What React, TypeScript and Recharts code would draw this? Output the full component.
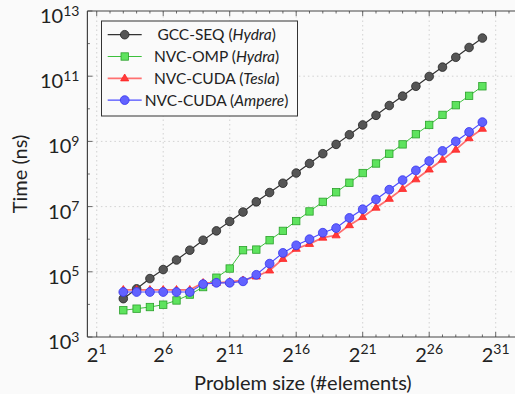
import { LineChart, Line, XAxis, YAxis, ReferenceLine } from "recharts";

// problem sizes 2^3 .. 2^30
const sizes = [
  8, 16, 32, 64, 128, 256, 512, 1024, 2048, 4096, 8192, 16384, 32768, 65536,
  131072, 262144, 524288, 1048576, 2097152, 4194304, 8388608, 16777216,
  33554432, 67108864, 134217728, 268435456, 536870912, 1073741824,
];

// times in ns
const gccSeq = [
  1.5e4, 3.0e4, 6.2e4, 1.17e5, 2.3e5, 4.6e5, 9.3e5, 1.8e6, 3.5e6, 6.8e6,
  1.4e7, 2.7e7, 5.2e7, 1.07e8, 2.1e8, 4.2e8, 8.1e8, 1.6e9, 3.2e9, 6.3e9,
  1.26e10, 2.45e10, 4.9e10, 9.8e10, 1.9e11, 3.8e11, 7.6e11, 1.48e12,
];
const nvcOmp = [
  6.6e3, 7.4e3, 8.3e3, 9.8e3, 1.32e4, 2.0e4, 3.4e4, 6.6e4, 1.26e5, 4.6e5,
  4.8e5, 9.3e5, 1.8e6, 3.6e6, 7.1e6, 1.4e7, 2.75e7, 5.4e7, 1.07e8, 2.1e8,
  4.2e8, 8.1e8, 1.66e9, 3.2e9, 6.5e9, 1.29e10, 2.5e10, 4.9e10,
];
const cudaTesla = [
  2.8e4, 2.8e4, 2.8e4, 2.8e4, 2.8e4, 2.8e4, 4.6e4, 4.6e4, 4.9e4, 5.5e4,
  7.2e4, 1.1e5, 2.5e5, 5.1e5, 7.2e5, 1.12e6, 1.32e6, 2.7e6, 4.8e6, 9.3e6,
  1.74e7, 3.5e7, 6.9e7, 1.38e8, 2.75e8, 5.6e8, 1.26e9, 2.45e9,
];
const cudaAmpere = [
  2.4e4, 2.4e4, 2.4e4, 2.4e4, 2.4e4, 2.4e4, 4.2e4, 4.6e4, 4.6e4, 5.1e4,
  8.1e4, 1.78e5, 3.8e5, 6.5e5, 1.0e6, 1.58e6, 2.2e6, 4.5e6, 8.3e6, 1.66e7,
  3.3e7, 6.5e7, 1.29e8, 2.5e8, 5.1e8, 1.0e9, 1.95e9, 3.9e9,
];

const xMajor = [2, 64, 2048, 65536, 2097152, 67108864, 2147483648];
const xTicks = Array.from({ length: 32 }, (_, i) => 2 ** (i + 1));
const yMajor = [1e3, 1e5, 1e7, 1e9, 1e11, 1e13];
const yTicks = [1e3, 1e4, 1e5, 1e6, 1e7, 1e8, 1e9, 1e10, 1e11, 1e12, 1e13];

const xDomain = [2 ** 0.3, 2 ** 32.7];
const yDomain = [1e3, 1e13];

const data = sizes.map((size, i) => ({
  size,
  gcc: gccSeq[i],
  omp: nvcOmp[i],
  tesla: cudaTesla[i],
  ampere: cudaAmpere[i],
}));

const FONT = "Lato, 'DejaVu Sans', sans-serif";
const FRAME = "#444";
const BG = "#fafafa";

const isMajorX = (v: number) => xMajor.includes(v);
const isMajorY = (v: number) => yMajor.includes(v);

const BottomTick = (props: any) => {
  const { x, y, payload } = props;
  const v = payload.value;
  const e = Math.round(Math.log2(v));
  const major = isMajorX(v);
  return (
    <g>
      <line x1={x} x2={x} y1={y} y2={y - (major ? 5 : 2.5)} stroke={FRAME} strokeWidth={0.8} />
      {major && (
        <text x={x} y={y + 24.7} textAnchor="middle" fontFamily={FONT} fontSize={20} fill="#222">
          2<tspan dy={-7.4} fontSize={14}>{e}</tspan>
        </text>
      )}
    </g>
  );
};

const TopTick = (props: any) => {
  const { x, y, payload } = props;
  const major = isMajorX(payload.value);
  return <line x1={x} x2={x} y1={y} y2={y + (major ? 5 : 2.5)} stroke={FRAME} strokeWidth={0.8} />;
};

const LeftTick = (props: any) => {
  const { x, y, payload } = props;
  const v = payload.value;
  const e = Math.round(Math.log10(v));
  const major = isMajorY(v);
  return (
    <g>
      <line x1={x} x2={x + (major ? 5 : 2.5)} y1={y} y2={y} stroke={FRAME} strokeWidth={0.8} />
      {major && (
        <text x={x - 8} y={y + 12} textAnchor="end" fontFamily={FONT} fontSize={20} fill="#222">
          10<tspan dy={-7.4} fontSize={14}>{e}</tspan>
        </text>
      )}
    </g>
  );
};

const circleDot = (fill: string, stroke: string, r: number) => (p: any) =>
  p.cx == null ? null : (
    <circle key={p.index} cx={p.cx} cy={p.cy} r={r} fill={fill} stroke={stroke} strokeWidth={0.8} />
  );

const squareDot = (p: any) =>
  p.cx == null ? null : (
    <rect key={p.index} x={p.cx - 3.7} y={p.cy - 3.7} width={7.4} height={7.4} fill="#5ee35e" stroke="#2aa02a" strokeWidth={0.8} />
  );

const triPath = (cx: number, cy: number, s: number) =>
  `M${cx},${cy - s} L${cx + s * 0.95},${cy + s * 0.6} L${cx - s * 0.95},${cy + s * 0.6} Z`;

const triangleDot = (p: any) =>
  p.cx == null ? null : (
    <path key={p.index} d={triPath(p.cx, p.cy, 4.3)} fill="#ff3b3b" stroke="#ff2222" strokeWidth={0.8} />
  );

const legendRows = [
  { name: "GCC-SEQ", hw: "Hydra", line: "#333", kind: "gcc" },
  { name: "NVC-OMP", hw: "Hydra", line: "#3cc03c", kind: "omp" },
  { name: "NVC-CUDA", hw: "Tesla", line: "#ff7070", kind: "tesla" },
  { name: "NVC-CUDA", hw: "Ampere", line: "#4d4dff", kind: "ampere" },
];

const LegendMarker = ({ kind, cx, cy }: { kind: string; cx: number; cy: number }) => {
  if (kind === "gcc") return <circle cx={cx} cy={cy} r={4.3} fill="#555" stroke="#222" strokeWidth={0.8} />;
  if (kind === "omp") return <rect x={cx - 3.7} y={cy - 3.7} width={7.4} height={7.4} fill="#5ee35e" stroke="#2aa02a" strokeWidth={0.8} />;
  if (kind === "tesla") return <path d={triPath(cx, cy, 4.3)} fill="#ff3b3b" stroke="#ff2222" strokeWidth={0.8} />;
  return <circle cx={cx} cy={cy} r={4.4} fill="#6262ff" stroke="#3434ee" strokeWidth={0.8} />;
};

export default function App() {
  return (
    <div style={{ position: "absolute", left: 0, top: 0, width: 515, height: 394, overflow: "hidden", background: BG }}>
      <LineChart width={521} height={394} data={data} margin={{ top: 0, right: 2.7, bottom: 0, left: 0 }}>
        <XAxis
          xAxisId={0}
          dataKey="size"
          type="number"
          scale="log"
          domain={xDomain}
          allowDataOverflow
          ticks={xTicks}
          interval={0}
          height={57}
          tickSize={0}
          tickMargin={0}
          tick={<BottomTick />}
          axisLine={{ stroke: FRAME, strokeWidth: 1.2 }}
          label={{
            content: () => (
              <text x={302.9} y={390} textAnchor="middle" fontFamily={FONT} fontSize={20} fill="#222">
                Problem size (#elements)
              </text>
            ),
          }}
        />
        <XAxis
          xAxisId="top"
          orientation="top"
          dataKey="size"
          type="number"
          scale="log"
          domain={xDomain}
          allowDataOverflow
          ticks={xTicks}
          interval={0}
          height={11}
          tickSize={0}
          tickMargin={0}
          tick={<TopTick />}
          axisLine={{ stroke: FRAME, strokeWidth: 1.2 }}
        />
        <YAxis
          type="number"
          scale="log"
          domain={yDomain}
          allowDataOverflow
          ticks={yTicks}
          interval={0}
          width={87.4}
          tickSize={0}
          tickMargin={0}
          tick={<LeftTick />}
          axisLine={{ stroke: FRAME, strokeWidth: 1.2 }}
          label={{
            content: () => (
              <text
                x={26.5}
                y={174}
                textAnchor="middle"
                fontFamily={FONT}
                fontSize={20}
                fill="#222"
                transform="rotate(-90, 26.5, 174)"
              >
                Time (ns)
              </text>
            ),
          }}
        />
        {xMajor.map((v) => (
          <ReferenceLine key={"x" + v} x={v} xAxisId={0} stroke="#c8c8c8" strokeWidth={0.8} strokeDasharray="1.5 3" />
        ))}
        {yMajor.slice(1, -1).map((v) => (
          <ReferenceLine key={"y" + v} y={v} xAxisId={0} stroke="#c8c8c8" strokeWidth={0.8} strokeDasharray="1.5 3" />
        ))}
        <Line dataKey="gcc" xAxisId={0} stroke="#333" strokeWidth={1.2} dot={circleDot("#555", "#222", 4.3)} isAnimationActive={false} />
        <Line dataKey="omp" xAxisId={0} stroke="#3cc03c" strokeWidth={1} dot={squareDot} isAnimationActive={false} />
        <Line dataKey="tesla" xAxisId={0} stroke="#ff7070" strokeWidth={1.8} dot={triangleDot} isAnimationActive={false} />
        <Line dataKey="ampere" xAxisId={0} stroke="#4d4dff" strokeWidth={1.2} dot={circleDot("#6262ff", "#3434ee", 4.4)} isAnimationActive={false} />
      </LineChart>
      <svg width={515} height={394} style={{ position: "absolute", left: 0, top: 0, pointerEvents: "none" }}>
        <rect x={101.5} y={21} width={196} height={95} fill={BG} stroke="#333" strokeWidth={1} />
        {legendRows.map((r, i) => {
          const cy = 34.7 + i * 21.8;
          return (
            <g key={i}>
              <line x1={107.7} x2={141.7} y1={cy} y2={cy} stroke={r.line} strokeWidth={r.kind === "tesla" ? 1.8 : 1.2} />
              <LegendMarker kind={r.kind} cx={124.7} cy={cy} />
              <text x={216.6} y={cy + 5.5} textAnchor="middle" fontFamily={FONT} fontSize={15.5} fill="#222">
                {r.name} (<tspan fontStyle="italic">{r.hw}</tspan>)
              </text>
            </g>
          );
        })}
      </svg>
    </div>
  );
}
